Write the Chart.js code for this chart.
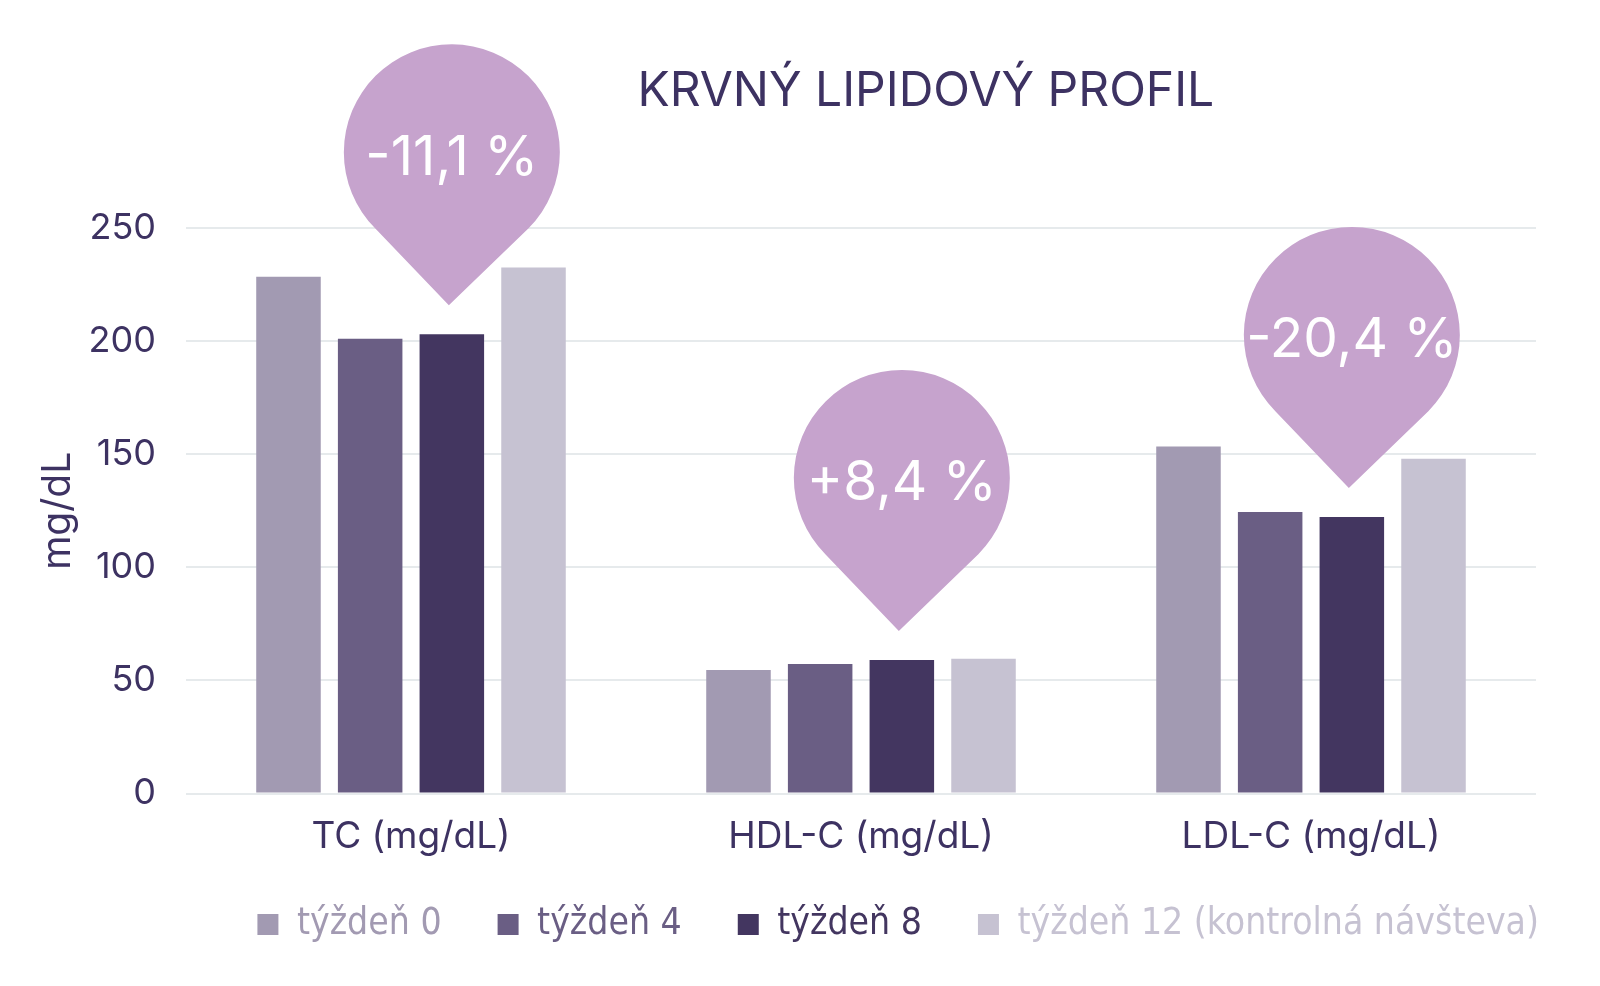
<!DOCTYPE html>
<html>
<head>
<meta charset="utf-8">
<script src="https://cdn.jsdelivr.net/npm/chart.js@4"></script>
<style>
  html, body { margin: 0; padding: 0; background: #ffffff; }
  #wrap { width: 1600px; height: 986px; }
</style>
</head>
<body>
<div id="wrap"><canvas id="lipidChart" width="1600" height="986"></canvas></div>
<script>
const categories = ["TC (mg/dL)", "HDL-C (mg/dL)", "LDL-C (mg/dL)"];
const week0 = [228.5, 54.6, 153.4];
const week4 = [201, 57.3, 124.5];
const week8 = [203, 59.1, 122.3];
const week12 = [232.5, 59.6, 148];
const seriesNames = ["týždeň 0", "týždeň 4", "týždeň 8", "týždeň 12 (kontrolná návšteva)"];
const pinLabels = ["-11,1 %", "+8,4 %", "-20,4 %"];
const chartTitle = "KRVNÝ LIPIDOVÝ PROFIL";

const colors = ["#a29ab2", "#6a5e84", "#433660", "#c6c2d2"];
const textColor = "#3d3262";
const pinColor = "#c6a3cd";

// title + percentage pins drawn over the plot
const overlayPlugin = {
  id: "overlay",
  afterLayout(chart) {
    // the x axis is squeezed to pull the legend up; let its labels overflow
    chart.scales.x.bottom += 24;
  },
  afterDatasetsDraw(chart) {
    const ctx = chart.ctx;
    const area = chart.chartArea;
    ctx.save();
    ctx.fillStyle = textColor;
    ctx.font = "400 48px Inter";
    ctx.textAlign = "center";
    ctx.textBaseline = "middle";
    ctx.fillText(chartTitle, area.left + (area.right - area.left) * 0.548, 92);

    const meta = chart.getDatasetMeta(2);
    const r = 108;
    const d = 153;
    const alpha = Math.acos(r / d);
    meta.data.forEach((bar, i) => {
      const tipX = bar.x - 3;
      const tipY = bar.y - 29;
      const cx = tipX + 3;
      const cy = tipY - d;
      ctx.beginPath();
      ctx.moveTo(tipX, tipY);
      ctx.arc(cx, cy, r, Math.PI / 2 + alpha, Math.PI / 2 - alpha + Math.PI * 2);
      ctx.closePath();
      ctx.fillStyle = pinColor;
      ctx.fill();
      ctx.fillStyle = "#ffffff";
      ctx.font = "400 55px Inter";
      ctx.fillText(pinLabels[i], cx, cy + 6);
    });
    ctx.restore();
  }
};

new Chart(document.getElementById("lipidChart"), {
  type: "bar",
  data: {
    labels: categories,
    datasets: [week0, week4, week8, week12].map((values, i) => ({
      label: seriesNames[i],
      data: values,
      backgroundColor: colors[i],
      borderWidth: 0,
      barPercentage: 0.79,
      categoryPercentage: 0.726
    }))
  },
  options: {
    responsive: false,
    animation: false,
    layout: {
      padding: { top: 228, right: 5, left: 35, bottom: 36 }
    },
    plugins: {
      title: { display: false },
      tooltip: { enabled: false },
      legend: {
        position: "bottom",
        align: "end",
        maxHeight: 100,
        labels: {
          boxWidth: 21,
          boxHeight: 21,
          padding: 56,
          font: { family: "DejaVu Sans Condensed", size: 37 },
          generateLabels(chart) {
            return chart.data.datasets.map((ds, i) => ({
              text: ds.label,
              fillStyle: colors[i],
              strokeStyle: colors[i],
              lineWidth: 0,
              fontColor: colors[i],
              datasetIndex: i,
              hidden: false
            }));
          }
        }
      }
    },
    scales: {
      x: {
        grid: { display: false },
        border: { display: false },
        ticks: {
          color: textColor,
          padding: 13,
          font: { family: "Inter", size: 37 }
        },
        afterFit(scale) {
          scale.height -= 22;
        }
      },
      y: {
        min: 0,
        max: 250,
        ticks: {
          stepSize: 50,
          color: textColor,
          padding: 30,
          font: { family: "Inter", size: 36 }
        },
        grid: { color: "#e6eaec", lineWidth: 2, drawTicks: false },
        border: { display: false },
        title: {
          display: true,
          text: "mg/dL",
          color: textColor,
          padding: { top: 0, bottom: 0 },
          font: { family: "Inter", size: 39 }
        },
        afterFit(scale) {
          scale.width = 151;
        }
      },
      yRight: {
        position: "right",
        display: true,
        grid: { display: false },
        border: { display: false },
        ticks: { display: false },
        afterFit(scale) {
          scale.width = 59;
        }
      }
    }
  },
  plugins: [overlayPlugin]
});
</script>
</body>
</html>
